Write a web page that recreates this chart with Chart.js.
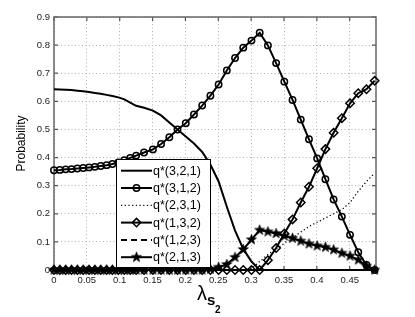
<!DOCTYPE html>
<html><head><meta charset="utf-8">
<script src="https://cdn.jsdelivr.net/npm/chart.js@4/dist/chart.umd.min.js"></script>
<style>html,body{margin:0;padding:0;background:#fff;}#wrap{width:415px;height:317px;position:relative;}</style>
</head><body><div id="wrap"><canvas id="c"></canvas></div>
<script>
// lambda_{s2} sample positions
const lambdaS2 = [0, 0.0089, 0.0178, 0.0267, 0.0356, 0.0444, 0.0533, 0.0622, 0.0711, 0.08, 0.0889,
  0.098, 0.107, 0.116, 0.125, 0.137, 0.1505, 0.163, 0.1755, 0.188, 0.2005, 0.213, 0.2255, 0.238,
  0.2505, 0.263, 0.2755, 0.288, 0.3005, 0.313, 0.3255, 0.338, 0.3505, 0.363, 0.3755, 0.388, 0.4005,
  0.413, 0.4255, 0.438, 0.4505, 0.463, 0.4755, 0.488];
const q321 = [0.643, 0.642, 0.641, 0.640, 0.638, 0.636, 0.633, 0.630, 0.627, 0.623, 0.619,
  0.614, 0.607, 0.595, 0.584, 0.577, 0.567, 0.550, 0.525, 0.500, 0.475, 0.450, 0.420, 0.375,
  0.315, 0.225, 0.140, 0.075, 0.030, 0, 0, 0, 0, 0, 0, 0, 0,
  0, 0, 0, 0, 0, 0, 0];
const q312 = [0.355, 0.356, 0.358, 0.359, 0.361, 0.363, 0.365, 0.367, 0.370, 0.373, 0.377,
  0.383, 0.391, 0.399, 0.407, 0.418, 0.429, 0.448, 0.472, 0.500, 0.522, 0.553, 0.585, 0.620,
  0.660, 0.710, 0.754, 0.791, 0.816, 0.844, 0.799, 0.736, 0.670, 0.605, 0.535, 0.465, 0.397,
  0.323, 0.251, 0.190, 0.125, 0.063, 0.018, 0];
const q231 = [0, 0, 0, 0, 0, 0, 0, 0, 0, 0, 0,
  0, 0, 0, 0, 0, 0, 0, 0, 0, 0, 0, 0, 0,
  0, 0, 0, 0, 0.005, 0.030, 0.055, 0.075, 0.095, 0.115, 0.135, 0.155, 0.170,
  0.185, 0.200, 0.215, 0.240, 0.280, 0.315, 0.345];
const q132 = [0, 0, 0, 0, 0, 0, 0, 0, 0, 0, 0,
  0, 0, 0, 0, 0, 0, 0, 0, 0, 0, 0, 0, 0,
  0, 0, 0, 0, 0, 0, 0.035, 0.078, 0.130, 0.180, 0.240, 0.296, 0.362,
  0.430, 0.488, 0.540, 0.593, 0.629, 0.643, 0.673];
const q123 = [0, 0, 0, 0, 0, 0, 0, 0, 0, 0, 0,
  0, 0, 0, 0, 0, 0, 0, 0, 0, 0, 0, 0, 0,
  0, 0, 0, 0, 0, 0, 0, 0, 0, 0, 0, 0, 0,
  0, 0, 0, 0, 0, 0, 0];
const q213 = [0, 0, 0, 0, 0, 0, 0, 0, 0, 0, 0,
  0, 0, 0, 0, 0, 0, 0, 0, 0, 0, 0, 0, 0.003,
  0.010, 0.020, 0.045, 0.073, 0.108, 0.142, 0.136, 0.130, 0.121, 0.113, 0.103, 0.093, 0.086,
  0.081, 0.072, 0.060, 0.050, 0.036, 0.014, 0];
const seriesLabels = ['q*(3,2,1)', 'q*(3,1,2)', 'q*(2,3,1)', 'q*(1,3,2)', 'q*(1,2,3)', 'q*(2,1,3)'];
const xTicks = [0, 0.05, 0.1, 0.15, 0.2, 0.25, 0.3, 0.35, 0.4, 0.45];
const yTicks = [0, 0.1, 0.2, 0.3, 0.4, 0.5, 0.6, 0.7, 0.8, 0.9];
const yAxisTitle = 'Probability';

function pentagram(r) {
  const s = Math.ceil(r * 2 + 2);
  const c = document.createElement('canvas');
  c.width = s; c.height = s;
  const g = c.getContext('2d');
  g.beginPath();
  for (let i = 0; i < 10; i++) {
    const a = -Math.PI / 2 + i * Math.PI / 5;
    const rr = i % 2 === 0 ? r : r * 0.4;
    g.lineTo(s / 2 + rr * Math.cos(a), s / 2 + rr * Math.sin(a));
  }
  g.closePath();
  g.fillStyle = '#000'; g.fill();
  g.strokeStyle = '#000'; g.lineWidth = 0.8; g.stroke();
  return c;
}
const starImg = pentagram(5.2);

const pts = arr => arr.map((v, i) => ({x: lambdaS2[i], y: v}));
const base = {borderColor: '#000', borderWidth: 2, pointBorderColor: '#000', pointBackgroundColor: 'rgba(0,0,0,0)', pointBorderWidth: 1.5, tension: 0, clip: false, pointHoverRadius: 0};
const datasets = [
  Object.assign({}, base, {label: seriesLabels[0], data: pts(q321), pointRadius: 0, order: 5}),
  Object.assign({}, base, {label: seriesLabels[1], data: pts(q312), pointStyle: 'circle', pointRadius: 3.2, order: 4}),
  Object.assign({}, base, {label: seriesLabels[2], data: pts(q231), pointRadius: 0, borderWidth: 1.3, borderDash: [1.2, 2.5], order: 3}),
  Object.assign({}, base, {label: seriesLabels[3], data: pts(q132), pointStyle: 'rectRot', pointRadius: 4.2, order: 2}),
  Object.assign({}, base, {label: seriesLabels[4], data: pts(q123), pointRadius: 0, borderDash: [6, 4], order: 1}),
  Object.assign({}, base, {label: seriesLabels[5], data: pts(q213), pointStyle: starImg, pointRadius: 5, order: 0})
];

function drawMarker(ctx, ds, x, y) {
  ctx.save();
  ctx.strokeStyle = '#000'; ctx.lineWidth = ds.pointBorderWidth;
  if (ds.pointStyle === 'circle' && ds.pointRadius > 0) {
    ctx.beginPath(); ctx.arc(x, y, ds.pointRadius, 0, Math.PI * 2); ctx.stroke();
  } else if (ds.pointStyle === 'rectRot' && ds.pointRadius > 0) {
    const r = ds.pointRadius;
    ctx.beginPath(); ctx.moveTo(x, y - r); ctx.lineTo(x + r, y); ctx.lineTo(x, y + r); ctx.lineTo(x - r, y); ctx.closePath(); ctx.stroke();
  } else if (ds.pointStyle instanceof HTMLCanvasElement) {
    ctx.drawImage(ds.pointStyle, x - ds.pointStyle.width / 2, y - ds.pointStyle.height / 2);
  }
  ctx.restore();
}

const frame = {
  id: 'frame',
  beforeDatasetsDraw(chart) {
    const {ctx, chartArea: a, scales: {x, y}} = chart;
    ctx.save();
    ctx.strokeStyle = '#555'; ctx.lineWidth = 1.2;
    ctx.beginPath();
    yTicks.forEach(v => { const p = y.getPixelForValue(v); ctx.moveTo(a.left, p); ctx.lineTo(a.left + 4, p); ctx.moveTo(a.right, p); ctx.lineTo(a.right - 4, p); });
    xTicks.forEach(v => { const p = x.getPixelForValue(v); ctx.moveTo(p, a.bottom); ctx.lineTo(p, a.bottom - 4); ctx.moveTo(p, a.top); ctx.lineTo(p, a.top + 4); });
    ctx.stroke();
    ctx.strokeStyle = '#666'; ctx.lineWidth = 1.5;
    ctx.strokeRect(a.left, a.top, a.right - a.left, a.bottom - a.top);
    ctx.restore();
  },
  afterDraw(chart) {
    const {ctx} = chart;
    ctx.save();
    // legend
    const lx = 116, ly = 159, lw = 94, lh = 108;
    ctx.fillStyle = '#fff'; ctx.fillRect(lx, ly, lw, lh);
    ctx.strokeStyle = '#000'; ctx.lineWidth = 1; ctx.strokeRect(lx + 0.5, ly + 0.5, lw, lh);
    ctx.font = '12.5px "Liberation Sans", Arial, sans-serif';
    ctx.textBaseline = 'middle'; ctx.textAlign = 'left';
    chart.data.datasets.forEach((ds, i) => {
      const cy = 170.7 + i * 17.3;
      ctx.save();
      ctx.strokeStyle = '#000'; ctx.lineWidth = ds.borderWidth;
      ctx.setLineDash(ds.borderDash || []);
      ctx.beginPath(); ctx.moveTo(121, cy); ctx.lineTo(152, cy); ctx.stroke();
      ctx.restore();
      drawMarker(ctx, ds, 136.5, cy);
      ctx.fillStyle = '#000';
      ctx.fillText(ds.label, 153, cy + 0.5);
    });
    // x axis title lambda_{s_2}
    ctx.fillStyle = '#000'; ctx.textBaseline = 'alphabetic';
    ctx.font = '20px "Liberation Sans", Arial, sans-serif';
    ctx.fillText('λ', 197, 300);
    ctx.font = 'bold 15px "Liberation Sans", Arial, sans-serif';
    ctx.fillText('s', 207, 305);
    ctx.font = 'bold 10px "Liberation Sans", Arial, sans-serif';
    ctx.fillText('2', 215, 313);
    ctx.restore();
  }
};

new Chart(document.getElementById('c'), {
  type: 'line',
  data: {datasets},
  plugins: [frame],
  options: {
    responsive: true, maintainAspectRatio: false, animation: false,
    layout: {padding: {top: 17, right: 39, left: 0, bottom: 0}},
    plugins: {legend: {display: false}, tooltip: {enabled: false}},
    scales: {
      x: {
        type: 'linear', min: 0, max: 0.49,
        afterBuildTicks: s => { s.ticks = xTicks.map(v => ({value: v})); },
        afterFit: s => { s.height = 47; },
        grid: {color: '#b0b0b0', lineWidth: 1, drawTicks: false},
        border: {display: false, dash: [1, 2.5]},
        ticks: {padding: 5, maxRotation: 0, autoSkip: false, color: '#222', font: {size: 9.5, family: '"Liberation Sans", Arial, sans-serif'}, callback: v => String(v)}
      },
      y: {
        type: 'linear', min: 0, max: 0.9,
        afterBuildTicks: s => { s.ticks = yTicks.map(v => ({value: v})); },
        afterFit: s => { s.width = 54; },
        grid: {color: '#b0b0b0', lineWidth: 1, drawTicks: false},
        border: {display: false, dash: [1, 2.5]},
        ticks: {padding: 4, color: '#222', font: {size: 9.5, family: '"Liberation Sans", Arial, sans-serif'}, callback: v => String(v)},
        title: {display: true, text: yAxisTitle, color: '#000', padding: {top: 14, bottom: 0}, font: {size: 12, family: '"Liberation Sans", Arial, sans-serif'}}
      }
    }
  }
});
</script></body></html>
